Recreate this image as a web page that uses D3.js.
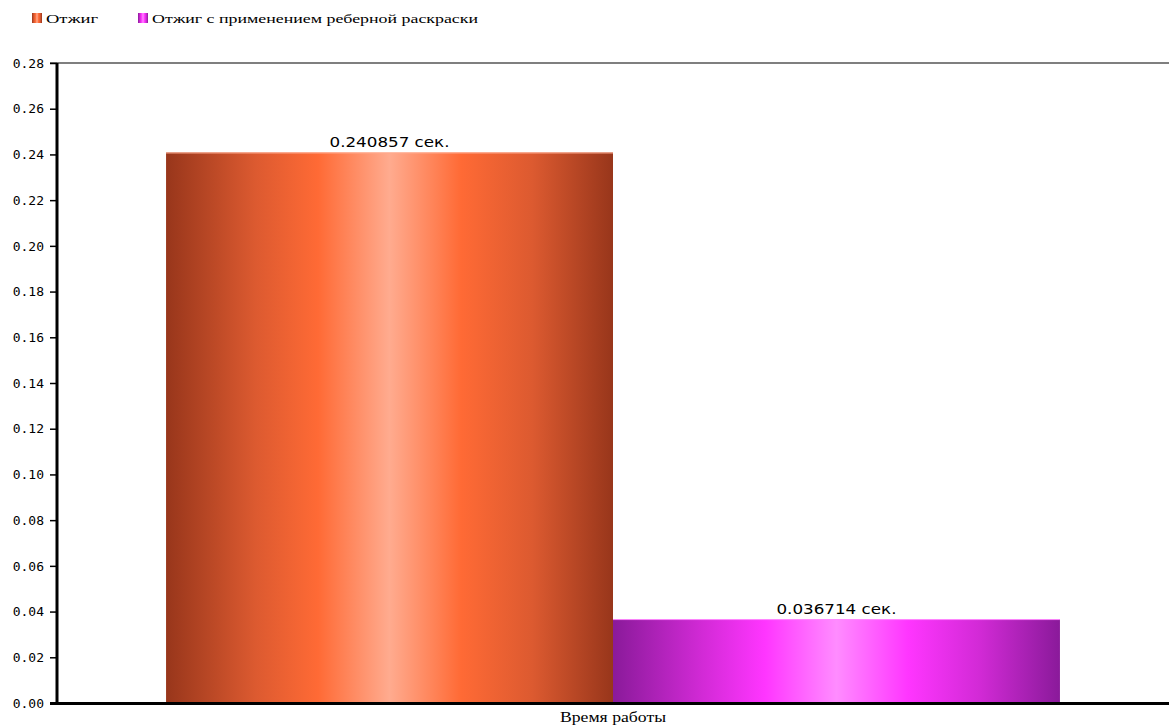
<!DOCTYPE html>
<html>
<head>
<meta charset="utf-8">
<script src="https://cdn.jsdelivr.net/npm/d3@7"></script>
<style>
  body { margin: 0; background: #fff; }
  svg { display: block; }
</style>
</head>
<body>
<svg id="chart" width="1169" height="728"></svg>
<script>
// Chart data
const category = "Время работы";
const seriesNames = ["Отжиг", "Отжиг с применением реберной раскраски"];
const seriesValues = [0.240857, 0.036714];
const valueLabels = ["0.240857 сек.", "0.036714 сек."];
const yTicks = [0.00, 0.02, 0.04, 0.06, 0.08, 0.10, 0.12, 0.14, 0.16, 0.18, 0.20, 0.22, 0.24, 0.26, 0.28];

// Gradient palettes per series: [dark edge, mid, base, highlight]
const palettes = [
  { edge: "#98361b", mid: "#dc5a30", base: "#ff6a35", light: "#ffab8f" },
  { edge: "#8a1a9a", mid: "#d22ad6", base: "#ff35ff", light: "#ff8cff" }
];

const W = 1169, H = 728;
const margin = { top: 63, right: 0, bottom: 25, left: 57 };
const svg = d3.select("#chart");

const x0 = d3.scaleBand().domain([category]).range([margin.left, W - margin.right]).paddingOuter(0.122).paddingInner(0);
const x1 = d3.scaleBand().domain(seriesNames).range([0, x0.bandwidth()]).padding(0);
const y = d3.scaleLinear().domain([0, 0.28]).range([H - margin.bottom, margin.top]);

// Gradients
const defs = svg.append("defs");
palettes.forEach((p, i) => {
  const g = defs.append("linearGradient").attr("id", "grad" + i)
    .attr("x1", "0%").attr("x2", "100%").attr("y1", "0%").attr("y2", "0%");
  [[0, p.edge], [0.2, p.mid], [0.34, p.base], [0.5, p.light], [0.66, p.base], [0.82, p.mid], [1, p.edge]]
    .forEach(([o, c]) => g.append("stop").attr("offset", o).attr("stop-color", c));
});

// Top frame line
svg.append("line")
  .attr("x1", margin.left - 7).attr("x2", W)
  .attr("y1", y(0.28)).attr("y2", y(0.28))
  .attr("stroke", "#000").attr("stroke-width", 1.2);

// Bars
const g = svg.append("g").attr("transform", `translate(${x0(category)},0)`);
g.selectAll("rect.bar").data(seriesValues).join("rect")
  .attr("class", "bar")
  .attr("x", (d, i) => x1(seriesNames[i]))
  .attr("y", d => y(d))
  .attr("width", x1.bandwidth())
  .attr("height", d => y(0) - y(d))
  .attr("fill", (d, i) => `url(#grad${i})`);

// Light top edge on bars
g.selectAll("line.edge").data(seriesValues).join("line")
  .attr("class", "edge")
  .attr("x1", (d, i) => x1(seriesNames[i]))
  .attr("x2", (d, i) => x1(seriesNames[i]) + x1.bandwidth())
  .attr("y1", d => y(d) + 0.5).attr("y2", d => y(d) + 0.5)
  .attr("stroke", (d, i) => palettes[i].light).attr("stroke-width", 1);

// Value labels
g.selectAll("text.val").data(seriesValues).join("text")
  .attr("class", "val")
  .attr("x", (d, i) => x1(seriesNames[i]) + x1.bandwidth() / 2)
  .attr("y", d => y(d) - 5)
  .attr("text-anchor", "middle")
  .attr("font-family", "'DejaVu Sans', sans-serif")
  .attr("font-size", 14)
  .attr("textLength", 120)
  .attr("lengthAdjust", "spacingAndGlyphs")
  .attr("fill", "#000")
  .text((d, i) => valueLabels[i]);

// Y axis
const yAxis = d3.axisLeft(y).tickValues(yTicks).tickFormat(d3.format(".2f")).tickSize(7).tickPadding(6);
const ya = svg.append("g").attr("transform", `translate(${margin.left},0)`).call(yAxis);
ya.select(".domain").remove();
ya.selectAll(".tick line").attr("stroke", "#000").attr("stroke-width", 1.5);
ya.selectAll(".tick text")
  .attr("font-family", "'DejaVu Sans Mono', monospace")
  .attr("font-size", 13)
  .attr("fill", "#000");
svg.append("line")
  .attr("x1", margin.left).attr("x2", margin.left)
  .attr("y1", y(0.28)).attr("y2", y(0) + 1)
  .attr("stroke", "#000").attr("stroke-width", 3);

// X axis baseline
svg.append("line")
  .attr("x1", margin.left - 7).attr("x2", W)
  .attr("y1", y(0) + 0.5).attr("y2", y(0) + 0.5)
  .attr("stroke", "#000").attr("stroke-width", 3);

// X category label
svg.append("text")
  .attr("x", x0(category) + x0.bandwidth() / 2)
  .attr("y", H - 6)
  .attr("text-anchor", "middle")
  .attr("font-family", "'Liberation Serif', serif")
  .attr("font-size", 14)
  .attr("textLength", 106)
  .attr("lengthAdjust", "spacingAndGlyphs")
  .attr("fill", "#000")
  .text(category);

// Legend
const legendX = [32, 138];
const legendTextLen = [52, 326];
const lg = svg.append("g");
seriesNames.forEach((name, i) => {
  lg.append("rect")
    .attr("x", legendX[i]).attr("y", 13)
    .attr("width", 10).attr("height", 10)
    .attr("fill", `url(#grad${i})`);
  lg.append("text")
    .attr("x", legendX[i] + 14).attr("y", 23)
    .attr("font-family", "'Liberation Serif', serif")
    .attr("font-size", 13)
    .attr("textLength", legendTextLen[i])
    .attr("lengthAdjust", "spacingAndGlyphs")
    .attr("fill", "#000")
    .text(name);
});
</script>
</body>
</html>
